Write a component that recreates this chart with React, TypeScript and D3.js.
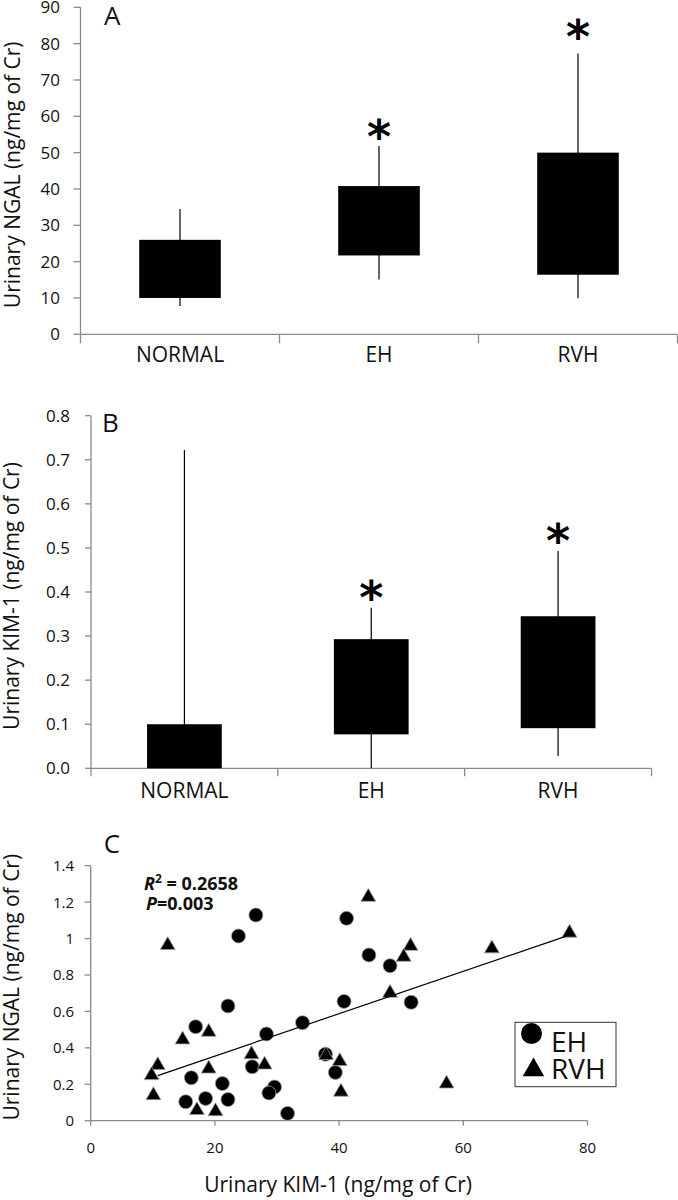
import React from "react";
import * as d3 from "d3";

// ---------- data ----------
const categories = ["NORMAL", "EH", "RVH"];

// Panel A: Urinary NGAL box plot
const ngalMin = [7.8, 15.1, 9.9];
const ngalQ1 = [10, 21.7, 16.4];
const ngalQ3 = [26, 40.8, 50];
const ngalMax = [34.5, 51.8, 77.3];
const ngalStar = [false, true, true];
const ngalTicks = [0, 10, 20, 30, 40, 50, 60, 70, 80, 90];

// Panel B: Urinary KIM-1 box plot
const kimMin = [0, 0, 0.028];
const kimQ1 = [0, 0.077, 0.091];
const kimQ3 = [0.1, 0.293, 0.345];
const kimMax = [0.722, 0.364, 0.493];
const kimStar = [false, true, true];
const kimTicks = [0, 0.1, 0.2, 0.3, 0.4, 0.5, 0.6, 0.7, 0.8];

// Panel C: scatter (x = KIM-1, y = NGAL)
const ehX = [26.6, 23.8, 22.1, 16.9, 34.1, 28.3, 26.0, 16.2, 21.2, 29.6, 28.7, 15.3, 18.5, 22.1, 31.7, 41.2, 44.8, 48.2, 40.8, 51.6, 37.8, 39.4];
const ehY = [1.129, 1.014, 0.63, 0.516, 0.538, 0.476, 0.296, 0.236, 0.204, 0.185, 0.152, 0.104, 0.122, 0.116, 0.04, 1.111, 0.91, 0.851, 0.655, 0.65, 0.365, 0.265];
const rvhX = [12.4, 14.8, 19.0, 10.8, 9.8, 10.1, 19.0, 17.1, 20.1, 25.9, 28.0, 37.9, 40.1, 40.3, 44.7, 51.5, 50.4, 64.6, 77.1, 48.2, 57.3];
const rvhY = [0.974, 0.456, 0.498, 0.315, 0.26, 0.15, 0.296, 0.068, 0.062, 0.375, 0.318, 0.37, 0.337, 0.169, 1.239, 0.97, 0.91, 0.956, 1.042, 0.712, 0.214];
const trendSlope = 0.01164;
const trendIntercept = 0.122;
const scatterXTicks = [0, 20, 40, 60, 80];
const scatterYTicks = [0, 0.2, 0.4, 0.6, 0.8, 1, 1.2, 1.4];
const legendLabels = ["EH", "RVH"];

// ---------- style ----------
const FONT = "'Open Sans', sans-serif";
const AXIS = "#8a8a8a";
const TXT = "#111";
const STAR_SIZE = 46;

type BoxProps = {
  left: number; right: number; top: number; bottom: number;
  domainMax: number; ticks: number[]; fmt: (v: number) => string;
  mins: number[]; q1s: number[]; q3s: number[]; maxs: number[]; stars: boolean[];
  letter: string; letterX: number; letterY: number;
  yLabel: string; yLabelX: number; catBaseline: number;
  tickLabelX: number; boxFrac: number; tickLen: number; divLen: number;
  starOffsets: number[];
};

function BoxPanel(p: BoxProps) {
  const x = d3.scaleBand<string>().domain(categories).range([p.left, p.right]).padding(0);
  const y = d3.scaleLinear().domain([0, p.domainMax]).range([p.bottom, p.top]);
  const bw = x.bandwidth() * p.boxFrac;
  const bounds = [...categories.map((c) => x(c) as number), p.right];
  return (
    <g>
      {/* y axis */}
      <line x1={p.left} x2={p.left} y1={y(p.domainMax)} y2={p.bottom} stroke={AXIS} strokeWidth={1.3} />
      {p.ticks.map((t) => (
        <g key={t}>
          <line x1={p.left - p.tickLen} x2={p.left} y1={y(t)} y2={y(t)} stroke={AXIS} strokeWidth={1.3} />
          <text x={p.tickLabelX} y={y(t)} dy="0.36em" textAnchor="end" fontFamily={FONT} fontSize={17} fill={TXT}>
            {p.fmt(t)}
          </text>
        </g>
      ))}
      {/* x axis */}
      <line x1={p.left} x2={p.right} y1={p.bottom} y2={p.bottom} stroke={AXIS} strokeWidth={1.3} />
      {bounds.map((b, i) => (
        <line key={i} x1={b} x2={b} y1={p.bottom} y2={p.bottom + p.divLen} stroke={AXIS} strokeWidth={1.3} />
      ))}
      {categories.map((c) => (
        <text key={c} x={(x(c) as number) + x.bandwidth() / 2} y={p.catBaseline} textAnchor="middle" fontFamily={FONT} fontSize={21} fill={TXT}>
          {c}
        </text>
      ))}
      {/* boxes */}
      {categories.map((c, i) => {
        const cx = (x(c) as number) + x.bandwidth() / 2;
        return (
          <g key={c}>
            <line x1={cx} x2={cx} y1={y(p.maxs[i])} y2={y(p.mins[i])} stroke="#000" strokeWidth={1.2} />
            <rect x={cx - bw / 2} width={bw} y={y(p.q3s[i])} height={y(p.q1s[i]) - y(p.q3s[i])} fill="#000" />
            {p.stars[i] && (
              <text x={cx} y={y(p.maxs[i]) - p.starOffsets[i] + 0.45 * STAR_SIZE} textAnchor="middle" fontFamily="'DejaVu Sans', sans-serif" fontWeight="bold" fontSize={STAR_SIZE} fill="#000">
                *
              </text>
            )}
          </g>
        );
      })}
      <text x={p.letterX} y={p.letterY} fontFamily={FONT} fontSize={26} fill={TXT}>{p.letter}</text>
      <text
        transform={`translate(${p.yLabelX},${(p.top + p.bottom) / 2 + 4}) rotate(-90)`}
        textAnchor="middle" fontFamily={FONT} fontSize={21} fill={TXT}
      >
        {p.yLabel}
      </text>
    </g>
  );
}

function ScatterPanel() {
  const left = 90.7, right = 587.5, top = 865.7, bottom = 1120.7;
  const x = d3.scaleLinear().domain([0, 80]).range([left, right]);
  const y = d3.scaleLinear().domain([0, 1.4]).range([bottom, top]);
  const tri = d3.symbol().type(d3.symbolTriangle).size(95)() as string;
  const legTri = d3.symbol().type(d3.symbolTriangle).size(200)() as string;
  const fmt = d3.format("~g");
  const allX = [...ehX, ...rvhX];
  const [xmin, xmax] = d3.extent(allX) as [number, number];
  const trend = d3.line<number>().x((v) => x(v)).y((v) => y(trendIntercept + trendSlope * v));
  return (
    <g>
      <line x1={left} x2={left} y1={top} y2={bottom} stroke={AXIS} strokeWidth={1.3} />
      <line x1={left} x2={right} y1={bottom} y2={bottom} stroke={AXIS} strokeWidth={1.3} />
      {scatterYTicks.map((t) => (
        <g key={t}>
          <line x1={left - 6} x2={left} y1={y(t)} y2={y(t)} stroke={AXIS} strokeWidth={1.3} />
          <text x={74} y={y(t)} dy="0.36em" textAnchor="end" fontFamily={FONT} fontSize={15} fill={TXT}>{fmt(t)}</text>
        </g>
      ))}
      {scatterXTicks.map((t) => (
        <g key={t}>
          <line x1={x(t)} x2={x(t)} y1={bottom} y2={bottom + 5} stroke={AXIS} strokeWidth={1.3} />
          <text x={x(t)} y={1152.5} textAnchor="middle" fontFamily={FONT} fontSize={15} fill={TXT}>{fmt(t)}</text>
        </g>
      ))}
      {ehX.map((v, i) => (
        <circle key={"e" + i} cx={x(v)} cy={y(ehY[i])} r={7} fill="#000" stroke="#9a9a9a" strokeWidth={0.8} />
      ))}
      {rvhX.map((v, i) => (
        <path key={"r" + i} d={tri} transform={`translate(${x(v)},${y(rvhY[i]) + 2})`} fill="#000" stroke="#9a9a9a" strokeWidth={0.8} />
      ))}
      <path d={trend([xmin + 1, xmax - 0.5]) as string} fill="none" stroke="#000" strokeWidth={1.2} />
      <text x={144} y={889.5} fontFamily={FONT} fontWeight="bold" fontSize={18} fill={TXT}>
        <tspan fontStyle="italic">R</tspan>
        <tspan fontSize={12} dy={-7}>2</tspan>
        <tspan dy={7}> = 0.2658</tspan>
      </text>
      <text x={146} y={910} fontFamily={FONT} fontWeight="bold" fontSize={18} fill={TXT}>
        <tspan fontStyle="italic">P</tspan>=0.003
      </text>
      {/* legend */}
      <rect x={515} y={1022.3} width={101} height={64.4} fill="#fff" stroke="#333" strokeWidth={1} />
      <circle cx={531.5} cy={1033.5} r={10.5} fill="#000" />
      <path d={legTri} transform={`translate(533.5,1070)`} fill="#000" />
      <text x={551} y={1051.5} fontFamily={FONT} fontSize={28} fill={TXT}>{legendLabels[0]}</text>
      <text x={551} y={1079.3} fontFamily={FONT} fontSize={28} fill={TXT}>{legendLabels[1]}</text>
      <text x={112} y={853} textAnchor="middle" fontFamily={FONT} fontSize={26} fill={TXT}>C</text>
      <text x={(left + right) / 2 - 1} y={1191.5} textAnchor="middle" fontFamily={FONT} fontSize={21} fill={TXT}>
        Urinary KIM-1 (ng/mg of Cr)
      </text>
      <text transform={`translate(19,${(top + bottom) / 2 - 6}) rotate(-90)`} textAnchor="middle" fontFamily={FONT} fontSize={21} fill={TXT}>
        Urinary NGAL (ng/mg of Cr)
      </text>
    </g>
  );
}

export default function App() {
  return (
    <svg width={678} height={1200} style={{ position: "absolute", left: 0, top: 0, background: "#fff" }}>
      <rect x={0} y={0} width={678} height={1200} fill="#fff" />
      <BoxPanel
        left={80.5} right={677.5} top={7.3} bottom={334.3} domainMax={90} ticks={ngalTicks}
        fmt={(v) => d3.format("d")(v)}
        mins={ngalMin} q1s={ngalQ1} q3s={ngalQ3} maxs={ngalMax} stars={ngalStar}
        letter="A" letterX={104} letterY={25} yLabel="Urinary NGAL (ng/mg of Cr)" yLabelX={20}
        catBaseline={362} tickLabelX={60} boxFrac={0.41} tickLen={7} divLen={9} starOffsets={[15, 14, 21]}
      />
      <BoxPanel
        left={91} right={651.5} top={415.7} bottom={768.3} domainMax={0.8} ticks={kimTicks}
        fmt={(v) => d3.format(".1f")(v)}
        mins={kimMin} q1s={kimQ1} q3s={kimQ3} maxs={kimMax} stars={kimStar}
        letter="B" letterX={102} letterY={432} yLabel="Urinary KIM-1 (ng/mg of Cr)" yLabelX={19}
        catBaseline={798} tickLabelX={70} boxFrac={0.4} tickLen={6} divLen={8} starOffsets={[15, 15, 15]}
      />
      <ScatterPanel />
    </svg>
  );
}
